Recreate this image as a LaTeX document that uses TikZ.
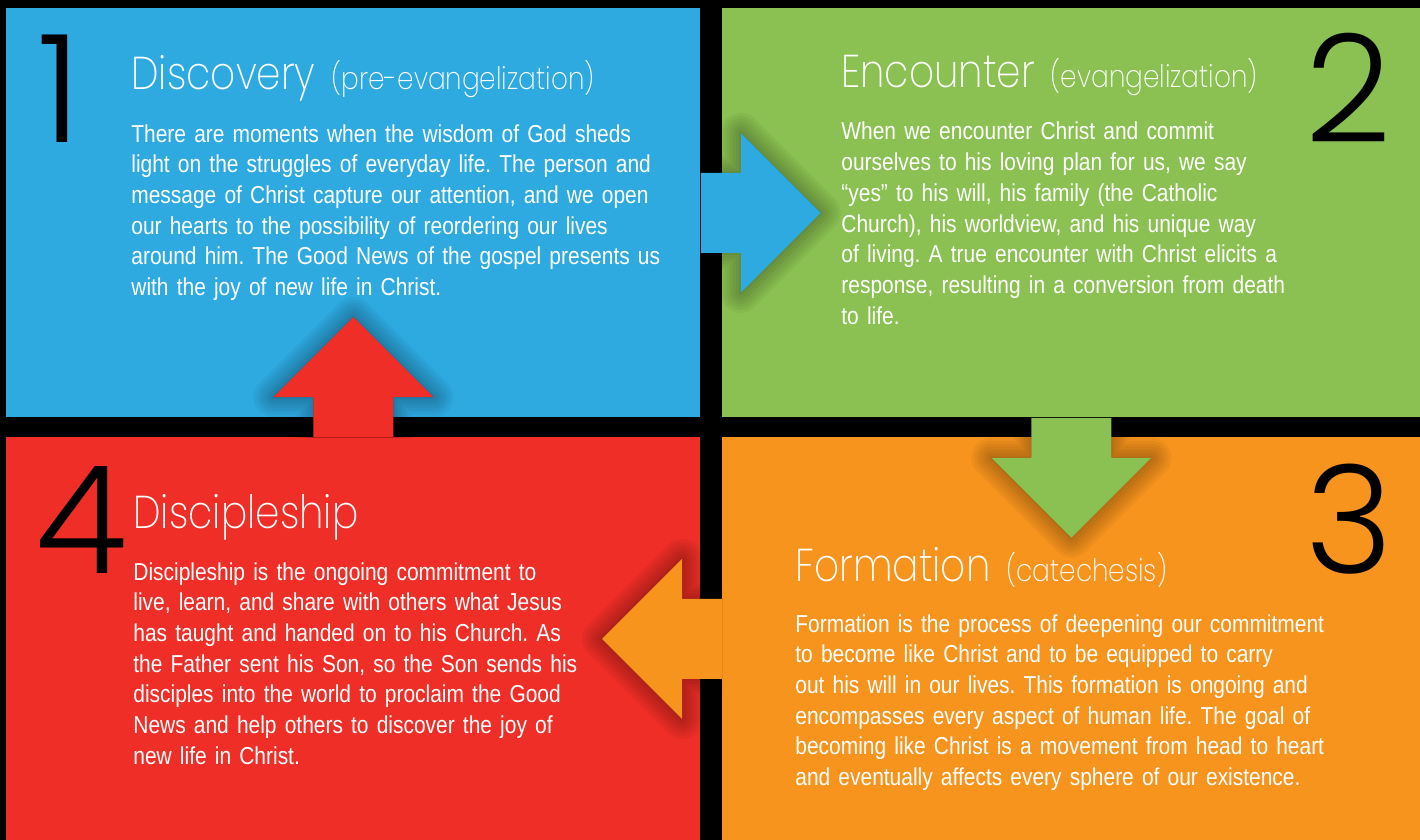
\documentclass[tikz,border=0pt]{standalone}
\usepackage{fontspec}
\setmainfont{Liberation Sans}[FakeStretch=0.855]
\newfontfamily\headfont{Poppins ExtraLight}[FakeStretch=0.85]
\newfontfamily\numfont{Poppins Light}
\usepackage{xcolor}
\usetikzlibrary{positioning}
\definecolor{discblue}{RGB}{46,170,225}
\definecolor{encgreen}{RGB}{139,193,82}
\definecolor{formorange}{RGB}{247,148,30}
\definecolor{discred}{RGB}{238,46,39}
\newcommand{\subhead}[1]{\hspace{8pt}{\fontsize{15.5}{15.5}\selectfont #1}}
\tikzset{
panel/.style={anchor=north west,inner sep=0pt,draw=none},
bodytext/.style={anchor=base west,inner sep=0pt,text width=270pt,align=left,text=white,font={\frenchspacing\fontsize{12.25}{15.35}\selectfont}},
headtext/.style={anchor=base west,inner sep=0pt,text=white,font={\headfont\fontsize{23}{23}\selectfont}},
bignum/.style={inner sep=0pt,text=black,font={\numfont\fontsize{75}{75}\selectfont}}
}

\begin{document}
\begin{tikzpicture}[x=0.5pt,y=-0.5pt,
block arrow/.pic={\clip (0,-110) rectangle (150,110);
\foreach \w in {20,17,14,11,8,5,2}
\draw[black,opacity=.04,line width=\w pt,line join=round,fill=black]
(0,-40) -- (40,-40) -- (40,-80) -- (120,0) -- (40,80) -- (40,40) -- (0,40) -- cycle;
\fill[pic actions] (0,-40) -- (40,-40) -- (40,-80) -- (120,0) -- (40,80) -- (40,40) -- (0,40) -- cycle;}
]
\path[use as bounding box,fill=black] (0,0) rectangle (1420,840);

\node[panel,fill=discblue,minimum width=347pt,minimum height=204.5pt] (discovery) at (6,8) {};
\node[panel,fill=encgreen,minimum width=349pt,minimum height=204.5pt] (encounter) at (722,8) {};
\node[panel,fill=formorange,minimum width=349pt,minimum height=201.5pt] (formation) at (722,437) {};
\node[panel,fill=discred,minimum width=347pt,minimum height=201.5pt] (discipleship) at (6,437) {};

\foreach \anc/\ang/\col in {discovery.east/0/discblue,encounter.south/-90/encgreen,formation.west/180/formorange,discipleship.north/90/discred}
\pic[rotate=\ang,fill=\col] at (\anc) {block arrow};

\node[bignum,anchor=base west] (n1) at (37,143) {1};
\node[bignum,anchor=base east] (n2) at (1392,143) {2};
\node[bignum,anchor=base east] (n3) at (1394,573) {3};
\node[bignum,anchor=base west] (n4) at (35,573) {4};

\node[headtext] (h1) at (131,90) {Discovery\subhead{(pre-evangelization)}};
\node[headtext] (h2) at (841,88) {Encounter\subhead{(evangelization)}};
\node[headtext] (h3) at (795,581) {Formation\subhead{(catechesis)}};
\node[headtext] (h4) at (133,528) {Discipleship};

\node[bodytext] (t1) at (131,142) {There are moments when the wisdom of God sheds\\
light on the struggles of everyday life. The person and\\
message of Christ capture our attention, and we open\\
our hearts to the possibility of reordering our lives\\
around him. The Good News of the gospel presents us\\
with the joy of new life in Christ.};
\node[bodytext] (t2) at (841,140) {When we encounter Christ and commit\\
ourselves to his loving plan for us, we say\\
“yes” to his will, his family (the Catholic\\
Church), his worldview, and his unique way\\
of living. A true encounter with Christ elicits a\\
response, resulting in a conversion from death\\
to life.};
\node[bodytext] (t3) at (795,632) {Formation is the process of deepening our commitment\\
to become like Christ and to be equipped to carry\\
out his will in our lives. This formation is ongoing and\\
encompasses every aspect of human life. The goal of\\
becoming like Christ is a movement from head to heart\\
and eventually affects every sphere of our existence.};
\node[bodytext] (t4) at (133,580) {Discipleship is the ongoing commitment to\\
live, learn, and share with others what Jesus\\
has taught and handed on to his Church. As\\
the Father sent his Son, so the Son sends his\\
disciples into the world to proclaim the Good\\
News and help others to discover the joy of\\
new life in Christ.};
\end{tikzpicture}
\end{document}
